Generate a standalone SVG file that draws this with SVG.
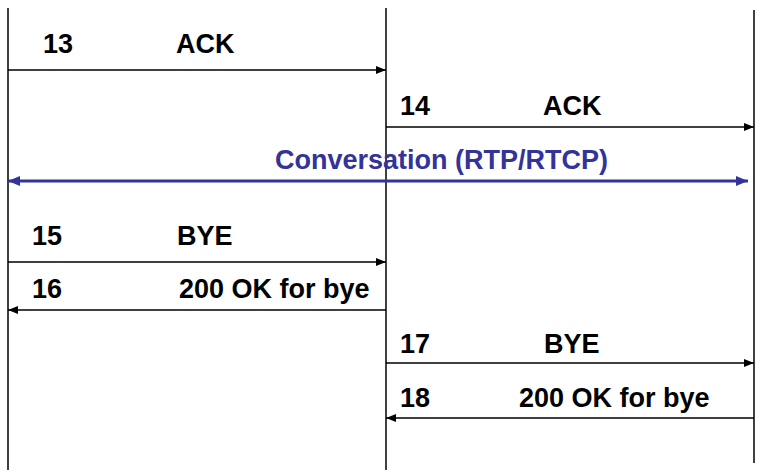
<svg xmlns="http://www.w3.org/2000/svg" width="764" height="470" viewBox="0 0 764 470">
<style>
.t{font-family:"Liberation Sans",Arial,sans-serif;font-weight:bold;font-size:27px;fill:#000}
.c{fill:#333399}
.life{stroke:#000;stroke-width:1.5;fill:none}
.msg{stroke:#000;stroke-width:1.5;fill:none}
.conv{stroke:#333399;stroke-width:3;fill:none}
</style>
<defs>
<marker id="ah" markerWidth="10" markerHeight="8" refX="10" refY="4" orient="auto" markerUnits="userSpaceOnUse">
<path d="M0,0 L10,4 L0,8 Z" fill="#000"/>
</marker>
<marker id="ahc" markerWidth="12" markerHeight="10" refX="12" refY="5" orient="auto-start-reverse" markerUnits="userSpaceOnUse">
<path d="M0,0 L12,5 L0,10 Z" fill="#333399"/>
</marker>
</defs>
<g id="lifelines">
<line id="lifeline-a" class="life" x1="8" y1="8" x2="8" y2="470"/>
<line id="lifeline-b" class="life" x1="386" y1="8" x2="386" y2="470"/>
<line id="lifeline-c" class="life" x1="754" y1="10" x2="754" y2="463"/>
</g>
<g id="connectors">
<line class="msg" x1="8" y1="70" x2="386" y2="70" marker-end="url(#ah)"/>
<line class="msg" x1="386" y1="127" x2="754" y2="127" marker-end="url(#ah)"/>
<line class="conv" x1="8" y1="181" x2="748" y2="181" marker-start="url(#ahc)" marker-end="url(#ahc)"/>
<line class="msg" x1="8" y1="262" x2="386" y2="262" marker-end="url(#ah)"/>
<line class="msg" x1="386" y1="310" x2="8" y2="310" marker-end="url(#ah)"/>
<line class="msg" x1="386" y1="363" x2="754" y2="363" marker-end="url(#ah)"/>
<line class="msg" x1="754" y1="418" x2="386" y2="418" stroke-width="2" marker-end="url(#ah)"/>
</g>
<g id="labels">
<text class="t" x="43" y="53">13</text>
<text class="t" x="176" y="53">ACK</text>
<text class="t" x="400" y="115">14</text>
<text class="t" x="543" y="115">ACK</text>
<text class="t c" x="275" y="169">Conversation (RTP/RTCP)</text>
<text class="t" x="32" y="245">15</text>
<text class="t" x="177" y="245">BYE</text>
<text class="t" x="32" y="298">16</text>
<text class="t" x="179" y="298">200 OK for bye</text>
<text class="t" x="400" y="353">17</text>
<text class="t" x="544" y="353">BYE</text>
<text class="t" x="400" y="407">18</text>
<text class="t" x="519" y="407">200 OK for bye</text>
</g>
</svg>
